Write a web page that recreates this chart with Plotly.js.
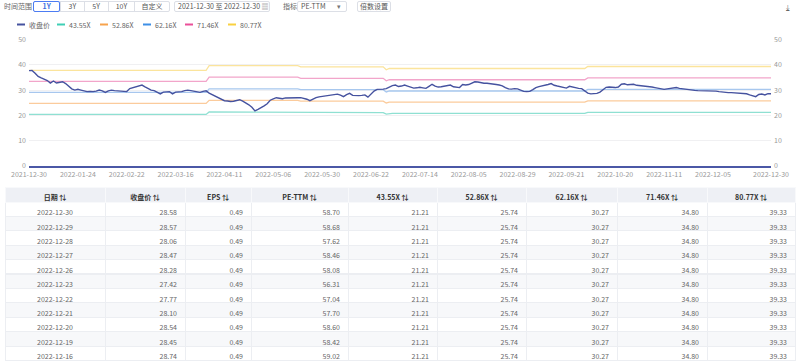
<!DOCTYPE html>
<html>
<head>
<meta charset="utf-8">
<script src="https://cdn.plot.ly/plotly-3.0.1.min.js"></script>
<style>
  html, body { margin: 0; padding: 0; background: #fff; }
  body { width: 800px; height: 362px; overflow: hidden; position: relative; font-family: "Noto Sans CJK SC", "Noto Sans", sans-serif; }
  #chart { position: absolute; left: 0; top: 0; width: 800px; height: 362px; }
  .ctl { position: absolute; top: 1px; height: 10px; font-size: 7px; line-height: 10px; color: #555; box-sizing: border-box; white-space: nowrap; }
  .lbl { color: #666; }
  .grp { border: 1px solid #dcdfe6; border-radius: 2px; display: flex; height: 11px; }
  .grp span { display: inline-block; text-align: center; border-left: 1px solid #dcdfe6; height: 9px; line-height: 9px; color: #555; }
  .grp span:first-child { border-left: none; }
  .grp span.sel { border: 1px solid #4c7cf3; color: #3b6fe0; font-weight: bold; margin: -1px 0 -1px -1px; height: 9px; border-radius: 2px; }
  .box { border: 1px solid #dcdfe6; border-radius: 2px; height: 11px; line-height: 9px; padding: 0 3px; }
</style>
</head>
<body>
<div id="chart"></div>
<div class="ctl lbl" style="left:4px;">时间范围</div>
<div class="ctl grp" style="left:33px; width:137px;">
  <span class="sel" style="width:26px;">1Y</span>
  <span style="width:23px;">3Y</span>
  <span style="width:24px;">5Y</span>
  <span style="width:26px;">10Y</span>
  <span style="width:35px;">自定义</span>
</div>
<div class="ctl box" style="left:174px; width:96px;">2021-12-30&nbsp;至&nbsp;2022-12-30 <span style="color:#999;">▦</span></div>
<div class="ctl lbl" style="left:283px;">指标</div>
<div class="ctl box" style="left:297px; width:50px;">PE-TTM<span style="position:absolute; right:5px; color:#777;">▾</span></div>
<div class="ctl box" style="left:357px; width:34px; text-align:center; padding:0;">倍数设置</div>
<div class="ctl" style="left:786px; top:2px; height:10px; font-size:8px; line-height:10px; color:#666;">⤓</div>
<script>
// ---------- categories (trading days) ----------
const tradeDates = [
"2021-12-30","2021-12-31",
"2022-01-04","2022-01-05","2022-01-06","2022-01-07","2022-01-10","2022-01-11","2022-01-12","2022-01-13","2022-01-14","2022-01-17","2022-01-18","2022-01-19","2022-01-20","2022-01-21","2022-01-24","2022-01-25","2022-01-26","2022-01-27","2022-01-28",
"2022-02-07","2022-02-08","2022-02-09","2022-02-10","2022-02-11","2022-02-14","2022-02-15","2022-02-16","2022-02-17","2022-02-18","2022-02-21","2022-02-22","2022-02-23","2022-02-24","2022-02-25","2022-02-28",
"2022-03-01","2022-03-02","2022-03-03","2022-03-04","2022-03-07","2022-03-08","2022-03-09","2022-03-10","2022-03-11","2022-03-14","2022-03-15","2022-03-16","2022-03-17","2022-03-18","2022-03-21","2022-03-22","2022-03-23","2022-03-24","2022-03-25","2022-03-28","2022-03-29","2022-03-30","2022-03-31",
"2022-04-01","2022-04-06","2022-04-07","2022-04-08","2022-04-11","2022-04-12","2022-04-13","2022-04-14","2022-04-15","2022-04-18","2022-04-19","2022-04-20","2022-04-21","2022-04-22","2022-04-25","2022-04-26","2022-04-27","2022-04-28","2022-04-29",
"2022-05-05","2022-05-06","2022-05-09","2022-05-10","2022-05-11","2022-05-12","2022-05-13","2022-05-16","2022-05-17","2022-05-18","2022-05-19","2022-05-20","2022-05-23","2022-05-24","2022-05-25","2022-05-26","2022-05-27","2022-05-30","2022-05-31",
"2022-06-01","2022-06-02","2022-06-06","2022-06-07","2022-06-08","2022-06-09","2022-06-10","2022-06-13","2022-06-14","2022-06-15","2022-06-16","2022-06-17","2022-06-20","2022-06-21","2022-06-22","2022-06-23","2022-06-24","2022-06-27","2022-06-28","2022-06-29","2022-06-30",
"2022-07-01","2022-07-04","2022-07-05","2022-07-06","2022-07-07","2022-07-08","2022-07-11","2022-07-12","2022-07-13","2022-07-14","2022-07-15","2022-07-18","2022-07-19","2022-07-20","2022-07-21","2022-07-22","2022-07-25","2022-07-26","2022-07-27","2022-07-28","2022-07-29",
"2022-08-01","2022-08-02","2022-08-03","2022-08-04","2022-08-05","2022-08-08","2022-08-09","2022-08-10","2022-08-11","2022-08-12","2022-08-15","2022-08-16","2022-08-17","2022-08-18","2022-08-19","2022-08-22","2022-08-23","2022-08-24","2022-08-25","2022-08-26","2022-08-29","2022-08-30","2022-08-31",
"2022-09-01","2022-09-02","2022-09-05","2022-09-06","2022-09-07","2022-09-08","2022-09-09","2022-09-13","2022-09-14","2022-09-15","2022-09-16","2022-09-19","2022-09-20","2022-09-21","2022-09-22","2022-09-23","2022-09-26","2022-09-27","2022-09-28","2022-09-29","2022-09-30",
"2022-10-10","2022-10-11","2022-10-12","2022-10-13","2022-10-14","2022-10-17","2022-10-18","2022-10-19","2022-10-20","2022-10-21","2022-10-24","2022-10-25","2022-10-26","2022-10-27","2022-10-28","2022-10-31",
"2022-11-01","2022-11-02","2022-11-03","2022-11-04","2022-11-07","2022-11-08","2022-11-09","2022-11-10","2022-11-11","2022-11-14","2022-11-15","2022-11-16","2022-11-17","2022-11-18","2022-11-21","2022-11-22","2022-11-23","2022-11-24","2022-11-25","2022-11-28","2022-11-29","2022-11-30",
"2022-12-01","2022-12-02","2022-12-05","2022-12-06","2022-12-07","2022-12-08","2022-12-09","2022-12-12","2022-12-13","2022-12-14","2022-12-15","2022-12-16","2022-12-19","2022-12-20","2022-12-21","2022-12-22","2022-12-23","2022-12-26","2022-12-27","2022-12-28","2022-12-29","2022-12-30"
];

// ---------- close price ----------
const closePrice = [
37.7,37.8,36.7,35.4,34.8,34.3,33.8,32.8,33.6,32.8,33.0,33.3,32.6,31.6,30.5,30.0,30.3,30.0,29.6,29.4,
29.5,29.4,29.6,30.0,29.7,29.1,29.7,30.0,29.8,29.7,29.8,29.6,29.4,30.6,30.9,31.1,31.6,32.0,31.3,30.6,
30.0,29.8,29.2,28.5,29.2,29.4,29.4,28.5,29.2,29.3,29.4,29.8,30.0,29.8,29.6,29.3,29.1,29.5,29.7,28.8,
28.2,27.4,26.8,26.4,25.8,25.7,25.5,25.6,25.9,26.2,25.6,25.0,24.2,23.2,21.8,22.4,23.0,23.8,24.6,26.0,
26.5,27.0,26.8,26.6,26.9,27.0,27.1,27.1,27.0,27.0,26.8,26.4,25.8,26.5,27.0,27.3,27.5,27.6,28.0,28.2,
28.3,28.4,28.0,27.4,28.2,28.7,27.9,27.8,27.8,27.9,28.1,27.2,28.6,29.6,30.3,30.3,30.4,30.6,31.2,31.8,
32.0,31.4,31.6,32.0,31.6,31.2,30.8,30.9,31.1,30.9,30.7,31.5,32.3,31.6,31.2,31.3,31.5,31.8,32.0,31.3,
31.1,31.0,32.2,32.0,32.2,32.7,33.3,33.2,32.8,32.7,32.7,32.6,32.3,32.2,32.0,31.7,31.0,30.5,30.4,30.6,
30.5,30.0,29.5,29.4,29.5,30.2,31.0,31.4,31.6,32.0,32.2,32.6,31.9,31.6,31.4,31.0,30.8,31.5,31.2,30.7,
30.7,30.6,29.5,28.8,28.5,28.6,28.7,29.2,30.2,31.1,31.2,31.1,31.0,31.2,32.3,32.5,32.1,32.2,32.3,31.9,
31.8,31.8,31.7,31.4,31.2,31.0,30.7,30.4,30.3,30.5,30.7,30.9,31.0,30.7,30.5,30.3,30.1,30.0,29.9,29.8,
29.8,29.8,29.7,29.6,29.6,29.6,29.4,29.2,29.1,29.0,29.0,28.9,28.7,28.74,28.45,28.54,28.10,27.77,27.42,28.28,
28.47,28.06,28.57,28.58
];

const epsStepStart = ["2021-12-30","2022-03-31","2022-05-19","2022-06-29","2022-06-30","2022-09-30"];
const epsStepValue = [0.468, 0.491, 0.485, 0.471, 0.477, 0.487];
const peMultiples = [43.55, 52.86, 62.16, 71.46, 80.77];
const bandNames = ["43.55X","52.86X","62.16X","71.46X","80.77X"];

// ---------- axis ticks ----------
const tickDates = ["2021-12-30","2022-01-24","2022-02-22","2022-03-16","2022-04-11","2022-05-06","2022-05-30","2022-06-22","2022-07-14","2022-08-05","2022-08-29","2022-09-21","2022-10-20","2022-11-11","2022-12-05","2022-12-30"];

// ---------- table ----------
const tblDate = ["2022-12-30","2022-12-29","2022-12-28","2022-12-27","2022-12-26","2022-12-23","2022-12-22","2022-12-21","2022-12-20","2022-12-19","2022-12-16"];
const tblClose = [28.58,28.57,28.06,28.47,28.28,27.42,27.77,28.10,28.54,28.45,28.74];
const tblEPS = [0.49,0.49,0.49,0.49,0.49,0.49,0.49,0.49,0.49,0.49,0.49];
const tblPE = [58.70,58.68,57.62,58.46,58.08,56.31,57.04,57.70,58.60,58.42,59.02];
const tbl4355 = [21.21,21.21,21.21,21.21,21.21,21.21,21.21,21.21,21.21,21.21,21.21];
const tbl5286 = [25.74,25.74,25.74,25.74,25.74,25.74,25.74,25.74,25.74,25.74,25.74];
const tbl6216 = [30.27,30.27,30.27,30.27,30.27,30.27,30.27,30.27,30.27,30.27,30.27];
const tbl7146 = [34.80,34.80,34.80,34.80,34.80,34.80,34.80,34.80,34.80,34.80,34.80];
const tbl8077 = [39.33,39.33,39.33,39.33,39.33,39.33,39.33,39.33,39.33,39.33,39.33];
const tblHeader = ["日期","收盘价","EPS","PE-TTM","43.55X","52.86X","62.16X","71.46X","80.77X"];

// ---------- styles ----------
const FONT = '"Noto Sans CJK SC", "Noto Sans", sans-serif';
const W = 800, H = 362;
const closeColor = '#45529f';
const bandLineColors = ['#8fe0d2', '#fbcb9c', '#a7c7ee', '#f2a5ca', '#fbe49c'];
const bandLegendColors = ['#3fcfb5', '#f7a34c', '#3d8fe6', '#ea4f99', '#f9d03f'];

function epsAt(d) {
  let v = epsStepValue[0];
  for (let k = 0; k < epsStepStart.length; k++) if (d >= epsStepStart[k]) v = epsStepValue[k];
  return v;
}

const traces = [];
peMultiples.forEach((m, k) => {
  traces.push({
    type: 'scatter', mode: 'lines', name: bandNames[k],
    x: tradeDates, y: tradeDates.map(d => +(m * epsAt(d)).toFixed(2)),
    line: { color: bandLineColors[k], width: 1.3 },
    showlegend: false, hoverinfo: 'skip', xaxis: 'x', yaxis: 'y'
  });
});
traces.push({
  type: 'scatter', mode: 'lines', name: '收盘价',
  x: tradeDates, y: closePrice,
  line: { color: closeColor, width: 1.4 },
  showlegend: false, xaxis: 'x', yaxis: 'y'
});

// table
const rowFill = tblDate.map((_, r) => r % 2 === 0 ? '#ffffff' : '#f7f8fa');
traces.push({
  type: 'table',
  domain: { x: [5 / W, 795 / W], y: [0, 1 - 187 / H] },
  columnwidth: [100, 80, 66, 97, 89, 89, 91, 90, 88],
  header: {
    values: tblHeader.map(h => h + ' ⇅'),
    align: 'center', height: 15,
    fill: { color: '#eef0f5' },
    line: { color: '#f8f9fb', width: 1 },
    font: { family: FONT, size: 7, color: '#333', weight: 'bold' }
  },
  cells: {
    values: [tblDate, tblClose, tblEPS, tblPE, tbl4355, tbl5286, tbl6216, tbl7146, tbl8077],
    format: ['', '.2f', '.2f', '.2f', '.2f', '.2f', '.2f', '.2f', '.2f'],
    align: ['center', 'right', 'right', 'right', 'right', 'right', 'right', 'right', 'right'],
    height: 14.4,
    fill: { color: tblHeader.map(() => rowFill) },
    line: { color: '#eceef2', width: 1 },
    font: { family: FONT, size: 7, color: '#666' }
  }
});

// legend (custom, compact like the reference)
const legendNames = ['收盘价'].concat(bandNames);
const legendColors = [closeColor].concat(bandLegendColors);
const legendIconX = [17, 57, 100, 143, 185, 228];
const legY = 1 - 24.5 / H;
const shapes = [], annotations = [];
legendNames.forEach((n, k) => {
  shapes.push({ type: 'line', xref: 'paper', yref: 'paper', x0: legendIconX[k] / W, x1: (legendIconX[k] + 8) / W, y0: legY, y1: legY, line: { color: legendColors[k], width: 2 } });
  annotations.push({ xref: 'paper', yref: 'paper', x: (legendIconX[k] + 10) / W, y: legY, xanchor: 'left', yanchor: 'middle', showarrow: false, text: n, font: { family: FONT, size: 7, color: '#666' } });
});

const axisFont = { family: FONT, size: 7, color: '#999' };
const yTop = 1 - 39.5 / H, yBot = 1 - 166 / H;
const layout = {
  width: W, height: H,
  margin: { l: 0, r: 0, t: 0, b: 0 },
  paper_bgcolor: '#fff', plot_bgcolor: '#fff',
  showlegend: false,
  font: { family: FONT },
  xaxis: {
    type: 'category', domain: [29 / W, 771 / W], anchor: 'y',
    range: [0, tradeDates.length - 1],
    tickmode: 'array', tickvals: tickDates, ticktext: tickDates,
    tickangle: 0, tickfont: axisFont, ticks: '', showgrid: false, ticklabelstandoff: 1,
    showline: true, linecolor: '#4b58a6', linewidth: 1.5, zeroline: false
  },
  yaxis: {
    domain: [yBot, yTop], anchor: 'x', range: [0, 50], dtick: 10,
    tickfont: axisFont, showgrid: true, gridcolor: '#f0f0f2', gridwidth: 1,
    zeroline: false, showline: false, ticks: '', ticklabelstandoff: 2
  },
  yaxis2: {
    overlaying: 'y', side: 'right', anchor: 'x', range: [0, 50], dtick: 10,
    tickfont: axisFont, showgrid: false, zeroline: false, showline: false, ticks: '', ticklabelstandoff: 2
  },
  shapes: shapes,
  annotations: annotations
};
// invisible helper trace so the right axis renders
traces.push({ type: 'scatter', mode: 'lines', x: [tradeDates[0]], y: [0], yaxis: 'y2', xaxis: 'x', line: { width: 0 }, showlegend: false, hoverinfo: 'skip' });

Plotly.newPlot('chart', traces, layout, { displayModeBar: false, staticPlot: true });
</script>
</body>
</html>
